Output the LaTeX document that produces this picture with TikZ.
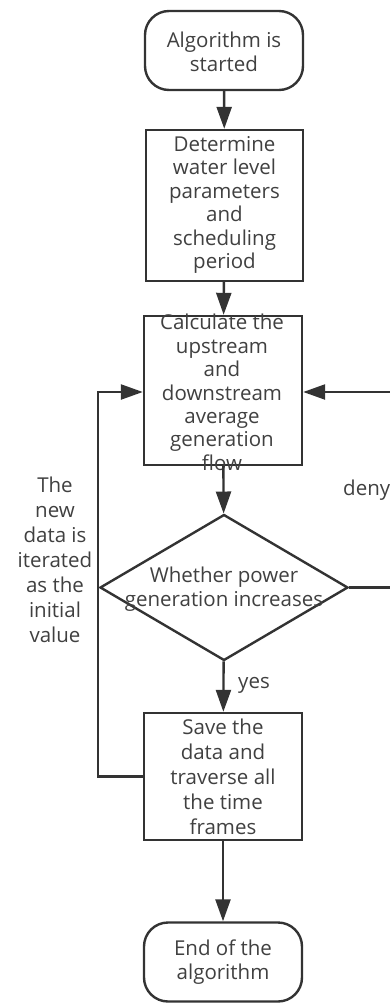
\documentclass[tikz,border=0pt]{standalone}
\usepackage{fontspec}
\setmainfont{Open Sans}
\usetikzlibrary{arrows.meta,shapes.geometric}
\definecolor{ln}{HTML}{333333}
\definecolor{tx}{HTML}{404040}
\tikzset{
  shapebox/.style={draw=ln, line width=2.4pt, rectangle, inner sep=0pt},
  term/.style={shapebox, rounded corners=24pt},
  dia/.style={draw=ln, line width=2.4pt, diamond, inner sep=0pt, minimum width=248pt, minimum height=146pt},
  lbl/.style={text=tx, align=center, inner sep=0pt, font=\fontsize{20.5}{24}\selectfont},
  lbltight/.style={lbl, font=\fontsize{20.5}{23.4}\selectfont},
  conn/.style={draw=ln, line width=2.4pt, -{Triangle[length=22pt,width=15pt]}},
  plain/.style={draw=ln, line width=2.4pt}
}
\begin{document}
\begin{tikzpicture}[x=1pt,y=-1pt]
\useasboundingbox (0,0) rectangle (390,1003);
\clip (0,0) rectangle (390,1003);
% shapes
\node[term, minimum width=158pt, minimum height=79pt] (start) at (224,50.5) {};
\node[shapebox, minimum width=157pt, minimum height=151pt] (det) at (224.5,205.5) {};
\node[shapebox, minimum width=158pt, minimum height=149pt] (calc) at (223,390.5) {};
\node[dia] (dec) at (224,587.5) {};
\node[shapebox, minimum width=158pt, minimum height=127pt] (save) at (223,776.5) {};
\node[term, minimum width=158pt, minimum height=79pt] (stop) at (223,962) {};
% texts
\node[lbl] (starttext) at (224,51.5) {Algorithm is\\started};
\node[lbltight] (dettext) at (224.5,205) {Determine\\water level\\parameters\\and\\scheduling\\period};
\node[lbltight] (calctext) at (222,392.5) {Calculate the\\upstream\\and\\downstream\\average\\generation\\flow};
\node[lbl] (dectext) at (224,589) {Whether power\\generation increases};
\node[lbl, font=\fontsize{20.5}{25}\selectfont] (savetext) at (223,776.5) {Save the\\data and\\traverse all\\the time\\frames};
\node[lbl] (stoptext) at (223,962) {End of the\\algorithm};
\node[lbl, font=\fontsize{20.5}{25}\selectfont] (newtext) at (55,560) {The\\new\\data is\\iterated\\as the\\initial\\value};
\node[lbl, anchor=west] (yes) at (238,685) {yes};
\node[lbl, anchor=west] (deny) at (343,490) {deny};
% connectors
\draw[conn] (start) -- (det);
\draw[conn] (det) -- (calc);
\draw[conn] (calc) -- (dec);
\draw[conn] (dec) -- (save);
\draw[conn] (save) -- (stop);
\coordinate (lc1) at (98,776.5);
\coordinate (lc2) at (98,392);
\draw[conn] (save.west |- lc1) -- (lc1) -- (lc2) -- (calc.west |- lc2);
\coordinate (rc1) at (396,587.5);
\coordinate (rc2) at (396,392);
\draw[conn] (dec.east) -- (rc1) -- (rc2) -- (calc.east |- rc2);
\end{tikzpicture}
\end{document}
